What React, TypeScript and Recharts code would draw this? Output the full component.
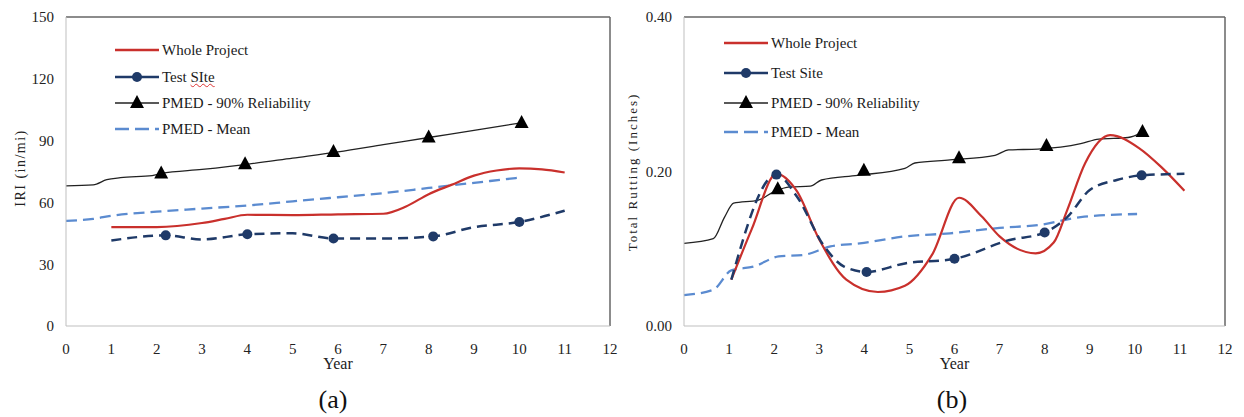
import React from "react";
import { ComposedChart, Line, Scatter, XAxis, YAxis, ReferenceLine } from "recharts";

// shared x ticks
const yearTicks = [0, 1, 2, 3, 4, 5, 6, 7, 8, 9, 10, 11, 12];

// (a) IRI
const iriTicks = [0, 30, 60, 90, 120, 150];
const iriWholeYears = [1, 2, 3, 3.5, 4, 5, 6, 7, 7.5, 8, 8.5, 9, 9.5, 10, 10.5, 11];
const iriWhole = [48, 48, 50, 52, 54, 53.8, 54.2, 54.5, 58, 64, 68.5, 73, 75.5, 76.5, 76, 74.5];
const iriTestYears = [1, 2.2, 3, 4, 5, 5.9, 7, 8.1, 9, 10, 11];
const iriTest = [41.5, 44, 42, 44.5, 45, 42.5, 42.5, 43.5, 48, 50.5, 56];
const iriTestMarkYears = [2.2, 4, 5.9, 8.1, 10];
const iriTestMarks = [44, 44.5, 42.5, 43.5, 50.5];
const iri90Years = [0, 0.6, 0.9, 1.2, 1.9, 2.1, 3, 4, 5, 6, 7, 8, 9, 10];
const iri90 = [68, 68.5, 71, 72, 73, 74, 76, 78.5, 81.5, 84.5, 88, 91.5, 95, 98.5];
const iri90MarkYears = [2.1, 3.95, 5.9, 8.0, 10.05];
const iri90Marks = [74, 78.5, 84.5, 91.5, 98.5];
const iriMeanYears = [0, 0.6, 1, 2, 3, 4, 5, 6, 7, 8, 9, 10];
const iriMean = [51, 52, 53.5, 55.5, 57, 58.5, 60.5, 62.5, 64.5, 67, 69.5, 72];

// (b) Total rutting
const rutTicks = [0, 0.2, 0.4];
const rutWholeYears = [1.05, 1.5, 2.05, 2.5, 3, 3.6, 4.3, 4.9, 5.5, 6.1, 6.6, 7, 7.8, 8.2, 8.5, 8.9, 9.45, 10.1, 10.6, 11.1];
const rutWhole = [0.06, 0.125, 0.197, 0.175, 0.112, 0.06, 0.044, 0.052, 0.092, 0.166, 0.142, 0.116, 0.094, 0.108, 0.15, 0.211, 0.247, 0.23, 0.205, 0.175];
const rutTestYears = [1.05, 2.05, 2.5, 3.1, 3.55, 4.05, 4.9, 6.0, 7.2, 8.0, 8.5, 9.0, 9.6, 10.15, 11.1];
const rutTest = [0.06, 0.196, 0.168, 0.104, 0.077, 0.07, 0.081, 0.087, 0.111, 0.121, 0.141, 0.176, 0.189, 0.195, 0.197];
const rutTestMarkYears = [2.05, 4.05, 6.0, 8.0, 10.15];
const rutTestMarks = [0.196, 0.07, 0.087, 0.121, 0.195];
const rut90Years = [0, 0.65, 0.9, 1.1, 1.65, 2.0, 2.35, 2.8, 3.05, 3.85, 4.9, 5.12, 5.9, 6.9, 7.2, 7.85, 8.8, 9.2, 9.85, 10.15];
const rut90 = [0.107, 0.113, 0.141, 0.159, 0.163, 0.174, 0.18, 0.181, 0.189, 0.195, 0.204, 0.211, 0.215, 0.221, 0.228, 0.229, 0.236, 0.242, 0.244, 0.25];
const rut90MarkYears = [2.08, 3.99, 6.1, 8.04, 10.17];
const rut90Marks = [0.177, 0.201, 0.217, 0.233, 0.251];
const rutMeanYears = [0, 0.65, 1.05, 1.55, 2.1, 2.65, 3.25, 3.9, 4.9, 5.9, 7.0, 7.9, 8.8, 10.05];
const rutMean = [0.04, 0.047, 0.072, 0.077, 0.09, 0.092, 0.103, 0.107, 0.116, 0.12, 0.127, 0.131, 0.141, 0.145];

const pts = (xs: number[], ys: number[]) => xs.map((x, i) => ({ x, y: ys[i] }));

const RED = "#c9302c";
const NAVY = "#1f3a68";
const LIGHT = "#5b8bd0";
const BLACK = "#222";
const FONT = "'Liberation Serif', 'Times New Roman', serif";

const Tri = (p: any) => (
  <polygon points={`${p.cx},${p.cy - 8} ${p.cx - 7},${p.cy + 5} ${p.cx + 7},${p.cy + 5}`} fill="#000" />
);
const Dot = (p: any) => <circle cx={p.cx} cy={p.cy} r={5} fill={NAVY} />;

function LegendBox({ left, rows, testLabel }: { left: number; rows: number[]; testLabel: React.ReactNode }) {
  const items = [
    { label: "Whole Project", stroke: RED, dash: undefined, mark: null },
    { label: testLabel, stroke: NAVY, dash: undefined, mark: "dot" },
    { label: "PMED - 90% Reliability", stroke: BLACK, dash: undefined, mark: "tri" },
    { label: "PMED - Mean", stroke: LIGHT, dash: "14 6", mark: null },
  ];
  return (
    <>
      {items.map((it, i) => (
        <div
          key={i}
          style={{ position: "absolute", left, top: rows[i] - 10, height: 20, display: "flex", alignItems: "center", fontFamily: FONT, fontSize: 15, color: "#1a1a1a", whiteSpace: "nowrap" }}
        >
          <svg width={44} height={20} style={{ marginRight: 3 }}>
            <line x1={0} y1={10} x2={44} y2={10} stroke={it.stroke} strokeWidth={it.mark === "tri" ? 1.4 : 2.5} strokeDasharray={it.dash} />
            {it.mark === "dot" && <circle cx={22} cy={10} r={5} fill={NAVY} />}
            {it.mark === "tri" && <polygon points="22,2 15,15 29,15" fill="#000" />}
          </svg>
          <span>{it.label}</span>
        </div>
      ))}
    </>
  );
}

const tickStyle = { fontFamily: FONT, fontSize: 15, fill: "#222" };

export default function App() {
  return (
    <div style={{ position: "absolute", left: 0, top: 0, width: 1244, height: 417, background: "#fff", overflow: "hidden" }}>
      {/* (a) */}
      <div style={{ position: "absolute", left: 0, top: 0 }}>
        <ComposedChart width={620} height={417} margin={{ top: 17, right: 10, left: 0, bottom: 43 }}>
          <XAxis
            type="number"
            dataKey="x"
            domain={[0, 12]}
            ticks={yearTicks}
            interval={0}
            tickLine={false}
            tickMargin={11}
            axisLine={{ stroke: "#bfbfbf" }}
            tick={tickStyle}
            height={48}
            label={{ value: "Year", position: "insideBottom", offset: 5, style: { fontFamily: FONT, fontSize: 16, fill: "#222" } }}
          />
          <YAxis
            type="number"
            domain={[0, 150]}
            ticks={iriTicks}
            width={66}
            tickLine={false}
            tickMargin={6}
            axisLine={{ stroke: "#bfbfbf" }}
            tick={tickStyle}
          />
          <ReferenceLine y={150} stroke="#666" strokeWidth={1.5} />
          <ReferenceLine x={12} stroke="#666" strokeWidth={1.5} />
          <Line data={pts(iriMeanYears, iriMean)} dataKey="y" type="monotone" stroke={LIGHT} strokeWidth={2.3} strokeDasharray="11 6" dot={false} isAnimationActive={false} />
          <Line data={pts(iri90Years, iri90)} dataKey="y" type="monotone" stroke={BLACK} strokeWidth={1.3} dot={false} isAnimationActive={false} />
          <Line data={pts(iriWholeYears, iriWhole)} dataKey="y" type="monotone" stroke={RED} strokeWidth={2.2} dot={false} isAnimationActive={false} />
          <Line data={pts(iriTestYears, iriTest)} dataKey="y" type="monotone" stroke={NAVY} strokeWidth={2.5} strokeDasharray="10 6" dot={false} isAnimationActive={false} />
          <Scatter data={pts(iri90MarkYears, iri90Marks)} dataKey="y" shape={Tri} isAnimationActive={false} />
          <Scatter data={pts(iriTestMarkYears, iriTestMarks)} dataKey="y" shape={Dot} isAnimationActive={false} />
        </ComposedChart>
      </div>
      <LegendBox
        left={115}
        rows={[50, 77, 103, 129]}
        testLabel={<span>Test <span style={{ textDecoration: "underline wavy #d33", textDecorationThickness: 1 }}>SIte</span></span>}
      />
      <div style={{ position: "absolute", left: 21, top: 168, transform: "translate(-50%, -50%) rotate(-90deg)", fontFamily: FONT, fontSize: 14, letterSpacing: 1.5, color: "#222", whiteSpace: "nowrap" }}>
        IRI (in/mi)
      </div>
      <div style={{ position: "absolute", left: 333, top: 400, transform: "translate(-50%, -50%)", fontFamily: FONT, fontSize: 26, color: "#111" }}>(a)</div>

      {/* (b) */}
      <div style={{ position: "absolute", left: 620, top: 0 }}>
        <ComposedChart width={624} height={417} margin={{ top: 17, right: 19, left: 0, bottom: 43 }}>
          <XAxis
            type="number"
            dataKey="x"
            domain={[0, 12]}
            ticks={yearTicks}
            interval={0}
            tickLine={false}
            tickMargin={11}
            axisLine={{ stroke: "#bfbfbf" }}
            tick={tickStyle}
            height={48}
            label={{ value: "Year", position: "insideBottom", offset: 5, style: { fontFamily: FONT, fontSize: 16, fill: "#222" } }}
          />
          <YAxis
            type="number"
            domain={[0, 0.4]}
            ticks={rutTicks}
            width={64}
            tickLine={false}
            tickMargin={6}
            axisLine={{ stroke: "#bfbfbf" }}
            tick={tickStyle}
            tickFormatter={(v: number) => v.toFixed(2)}
          />
          <ReferenceLine y={0.4} stroke="#666" strokeWidth={1.5} />
          <ReferenceLine x={12} stroke="#666" strokeWidth={1.5} />
          <Line data={pts(rutMeanYears, rutMean)} dataKey="y" type="monotone" stroke={LIGHT} strokeWidth={2.3} strokeDasharray="11 6" dot={false} isAnimationActive={false} />
          <Line data={pts(rut90Years, rut90)} dataKey="y" type="monotone" stroke={BLACK} strokeWidth={1.3} dot={false} isAnimationActive={false} />
          <Line data={pts(rutWholeYears, rutWhole)} dataKey="y" type="monotone" stroke={RED} strokeWidth={2.2} dot={false} isAnimationActive={false} />
          <Line data={pts(rutTestYears, rutTest)} dataKey="y" type="monotone" stroke={NAVY} strokeWidth={2.5} strokeDasharray="10 6" dot={false} isAnimationActive={false} />
          <Scatter data={pts(rut90MarkYears, rut90Marks)} dataKey="y" shape={Tri} isAnimationActive={false} />
          <Scatter data={pts(rutTestMarkYears, rutTestMarks)} dataKey="y" shape={Dot} isAnimationActive={false} />
        </ComposedChart>
      </div>
      <LegendBox left={724} rows={[43, 73, 103, 132]} testLabel="Test Site" />
      <div style={{ position: "absolute", left: 633, top: 172, transform: "translate(-50%, -50%) rotate(-90deg)", fontFamily: FONT, fontSize: 13, letterSpacing: 2, color: "#222", whiteSpace: "nowrap" }}>
        Total Rutting (Inches)
      </div>
      <div style={{ position: "absolute", left: 952, top: 400, transform: "translate(-50%, -50%)", fontFamily: FONT, fontSize: 26, color: "#111" }}>(b)</div>
    </div>
  );
}
